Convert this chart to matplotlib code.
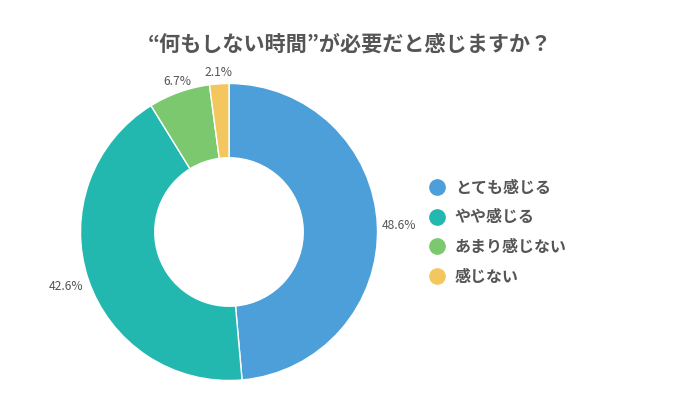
import matplotlib
matplotlib.use("Agg")
import matplotlib.pyplot as plt
from matplotlib.lines import Line2D
import numpy as np

plt.rcParams['font.family'] = ['Noto Sans CJK JP', 'DejaVu Sans']

title = "“何もしない時間”が必要だと感じますか？"
categories = ["とても感じる", "やや感じる", "あまり感じない", "感じない"]
values = [48.6, 42.6, 6.7, 2.1]
colors = ["#4C9FD8", "#22B8B0", "#7CC86F", "#F3C75D"]
text_color = "#555555"

W, H = 700, 420
fig = plt.figure(figsize=(7, 4.2), dpi=100)
cx, cy, r = 229, 232, 148.5
ax = fig.add_axes([(cx - r) / W, (H - cy - r) / H, 2 * r / W, 2 * r / H])
wedges, _ = ax.pie(values, colors=colors, startangle=90, counterclock=False,
                   radius=1.0, wedgeprops=dict(width=0.5, edgecolor='white', linewidth=1))
ax.set_xlim(-1, 1)
ax.set_ylim(-1, 1)
ax.set_aspect('equal')
ax.axis('off')

for w, v in zip(wedges, values):
    ang = np.deg2rad((w.theta1 + w.theta2) / 2)
    c, s = np.cos(ang), np.sin(ang)
    d = 1.03
    ha = 'left' if c > 0.5 else ('right' if c < -0.5 else 'center')
    va = 'bottom' if s > 0.2 else ('top' if s < -0.2 else 'center')
    ax.text(d * c, d * s, f"{v}%", ha=ha, va=va, fontsize=8.7, color=text_color,
            clip_on=False)

fig.text(0.5, (H - 44) / H, title, ha='center', va='center', fontsize=15.2,
         fontweight='bold', color=text_color)

handles = [Line2D([0], [0], marker='o', linestyle='', markersize=11,
                  markerfacecolor=col, markeredgecolor=col) for col in colors]
leg = fig.legend(handles, categories, loc='center left',
                 bbox_to_anchor=(429 / W, (H - 232) / H), frameon=False,
                 handlelength=1.0, handletextpad=0.62, labelspacing=0.86,
                 prop=dict(size=11.5, weight='bold'), borderaxespad=0, borderpad=0)
for t in leg.get_texts():
    t.set_color(text_color)

fig.savefig("out.png", dpi=100, facecolor='white')
